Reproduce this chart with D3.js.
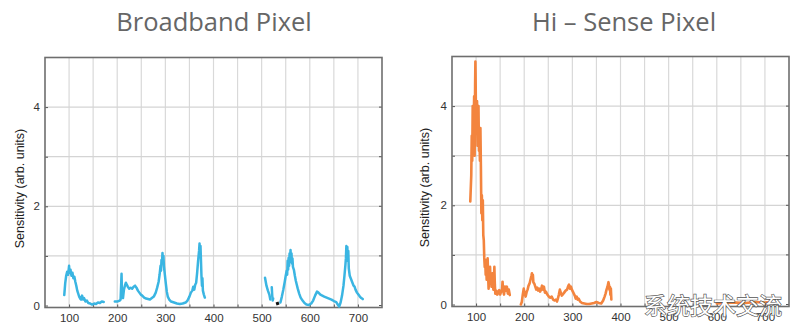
<!DOCTYPE html>
<html><head><meta charset="utf-8">
<script src="https://cdn.jsdelivr.net/npm/d3@7"></script>
<style>html,body{margin:0;padding:0;background:#fff;}svg{display:block;}</style>
</head><body>
<svg id="chart" width="792" height="330"></svg>
<script>
// ---------- data ----------
const titles = ["Broadband Pixel", "Hi \u2013 Sense Pixel"];
const yAxisLabel = "Sensitivity (arb. units)";
const xTickValues = [100, 200, 300, 400, 500, 600, 700];
const yTickValues = [0, 2, 4];
const xGridValues = [100,150,200,250,300,350,400,450,500,550,600,650,700];
const yGridValues = [1, 2, 3, 4];
const watermarkText = "系统技术交流";

// Broadband pixel (blue), segments of [wavelength, sensitivity]
const broadbandSeg1 = [[90,0.21],[92,0.45],[94,0.6],[96,0.68],[98,0.62],[100,0.8],[101,0.66],[103,0.72],[105,0.6],[107,0.66],[109,0.55],[111,0.58],[113,0.48],[115,0.4],[117,0.3],[119,0.24],[121,0.18],[123,0.14],[125,0.12],[127,0.2],[129,0.12],[131,0.15],[134,0.08],[137,0.1],[140,0.05],[144,0.04],[148,0.02],[152,0.04],[156,0.03],[160,0.06],[164,0.05],[168,0.08],[172,0.07]];
const broadbandSeg2 = [[195,0.08],[200,0.08],[205,0.1],[207,0.12],[209,0.64],[210,0.2],[212,0.15],[214,0.32],[216,0.4],[218,0.46],[220,0.42],[222,0.38],[225,0.34],[228,0.36],[231,0.34],[234,0.38],[237,0.4],[240,0.36],[243,0.3],[246,0.26],[249,0.22],[252,0.2],[256,0.16],[260,0.14],[264,0.13],[268,0.12],[272,0.15],[276,0.18],[280,0.26],[283,0.36],[286,0.48],[288,0.62],[290,0.8],[291,0.7],[292,0.92],[293,0.86],[294,1.06],[295,0.9],[296,1.0],[297,0.8],[299,0.62],[301,0.44],[303,0.28],[305,0.18],[308,0.12],[312,0.08],[318,0.06],[324,0.04],[330,0.03],[336,0.04],[342,0.06],[346,0.1],[350,0.18],[353,0.26],[356,0.3],[358,0.38],[360,0.32],[362,0.42],[364,0.46],[366,0.66],[368,0.9],[370,1.1],[371,1.25],[372,1.1],[373,1.2],[374,0.9],[375,0.6],[376,0.4],[377,0.55],[378,0.3],[380,0.22],[382,0.16]];
const broadbandSeg3 = [[507,0.56],[510,0.4],[513,0.3],[516,0.22],[518,0.12]];
const broadbandSeg4 = [[521,0.37],[522,0.2],[523,0.1],[524,0.14]];
const broadbandSeg5 = [[539,0.06],[542,0.18],[545,0.32],[548,0.48],[550,0.6],[552,0.7],[553,0.62],[554,0.9],[555,0.72],[556,0.96],[557,0.8],[558,1.05],[559,0.9],[560,1.12],[561,0.88],[562,1.05],[563,0.85],[564,0.95],[565,0.78],[567,0.72],[569,0.6],[571,0.5],[573,0.42],[575,0.34],[578,0.24],[581,0.16],[585,0.1],[589,0.05],[593,0.02],[598,0.01],[603,0.04],[607,0.1],[611,0.2],[615,0.28],[618,0.26],[622,0.22],[626,0.2],[630,0.18],[635,0.16],[640,0.14],[645,0.12],[650,0.09],[655,0.07],[658,0.02],[661,-0.02],[664,0.06],[667,0.2],[670,0.4],[672,0.6],[674,0.82],[675,0.95],[676,1.2],[677,1.05],[678,1.18],[679,0.9],[680,1.1],[681,0.75],[683,0.6],[685,0.55],[687,0.5],[689,0.45],[691,0.4],[693,0.38],[695,0.32],[698,0.26],[701,0.22],[704,0.18],[707,0.15],[710,0.13]];
const broadbandMark = [[530,0.03],[536,0.05]];

// Hi-Sense pixel (orange)
const hiSenseSeg1 = [[88,2.08],[90,2.6],[91,3.4],[92,2.9],[93,4.0],[94,3.2],[95,3.6],[96,4.2],[97,3.0],[98,4.4],[98.6,4.9],[99,4.6],[100,3.6],[101,3.9],[102,4.1],[103,3.2],[104,3.5],[105,4.0],[106,3.1],[107,3.4],[108,2.9],[109,3.56],[110,2.8],[111,1.84],[112,2.2],[113,1.7],[114,2.1],[115,1.4],[116,1.3],[117,0.95],[118,0.76],[119,0.9],[120,0.6],[121,0.8],[122,0.5],[123,0.8],[124,0.93],[125,0.6],[126,0.32],[127,0.55],[128,0.6],[129,0.76],[130,0.5],[131,0.6],[132,0.36],[133,0.5],[134,0.63],[135,0.4],[136,0.3],[137,0.5],[138,0.76],[139,0.4],[140,0.22],[142,0.28],[144,0.2],[146,0.24],[148,0.29],[150,0.2],[152,0.26],[154,0.3],[155,0.46],[156,0.3],[158,0.2],[160,0.36],[162,0.28],[164,0.36],[166,0.22],[168,0.3],[170,0.19]];
const hiSenseSeg2 = [[193,0.0],[195,0.05],[197,0.2],[199,0.32],[201,0.22],[203,0.16],[205,0.25],[207,0.3],[209,0.38],[211,0.42],[213,0.5],[215,0.58],[216,0.63],[217,0.55],[218,0.6],[219,0.45],[221,0.42],[223,0.36],[225,0.3],[227,0.34],[229,0.28],[231,0.32],[233,0.26],[235,0.3],[237,0.38],[239,0.3],[241,0.36],[243,0.24],[245,0.26],[248,0.2],[251,0.16],[254,0.14],[257,0.16],[260,0.1],[263,0.08],[266,0.1],[268,0.06],[270,0.12],[272,0.2],[274,0.3],[276,0.24],[278,0.18],[280,0.2],[283,0.24],[286,0.28],[289,0.3],[291,0.36],[293,0.4],[295,0.32],[297,0.36],[299,0.3],[301,0.26],[303,0.22],[305,0.18],[307,0.12],[309,0.16],[311,0.1],[313,0.12],[316,0.06],[320,0.03],[325,0.02],[330,0.01],[335,0.01],[340,0.02],[345,0.03],[350,0.05],[355,0.03],[360,0.02],[364,0.08],[367,0.16],[369,0.22],[371,0.3],[373,0.36],[375,0.45],[376,0.4],[377,0.3],[378,0.36],[379,0.2],[380,0.32],[381,0.1]];
const hiSenseSeg3 = [[600,0.02],[620,0.03],[640,0.04],[660,0.03],[680,0.05],[700,0.04],[710,0.05]];

const broadbandSegments = [broadbandSeg1, broadbandSeg2, broadbandSeg3, broadbandSeg4, broadbandSeg5];
const hiSenseSegments = [hiSenseSeg1, hiSenseSeg2, hiSenseSeg3];

// ---------- drawing ----------
const svg = d3.select("#chart");

function panel(cfg) {
  const x = d3.scaleLinear().domain([50, 750]).range([cfg.left, cfg.right]);
  const y = d3.scaleLinear().domain([-0.04, 5]).range([cfg.bottom, cfg.top]);
  const g = svg.append("g");

  // grid
  g.selectAll(".vg").data(xGridValues).join("line")
    .attr("x1", d => x(d)).attr("x2", d => x(d))
    .attr("y1", cfg.top).attr("y2", cfg.bottom)
    .attr("stroke", "#d9d9d9").attr("stroke-width", 1.2);
  g.selectAll(".hg").data(yGridValues).join("line")
    .attr("x1", cfg.left).attr("x2", cfg.right)
    .attr("y1", d => y(d)).attr("y2", d => y(d))
    .attr("stroke", "#d4d4d4").attr("stroke-width", 1.2);

  // axes via d3 (ticks inward)
  const xAxis = d3.axisBottom(x).tickValues(xGridValues).tickSize(-3).tickPadding(6)
    .tickFormat(d => xTickValues.includes(d) ? d : "");
  const gx = g.append("g").attr("transform", `translate(0,${cfg.bottom})`).call(xAxis);
  gx.select(".domain").remove();
  gx.selectAll("line").attr("stroke", "#555");
  gx.selectAll("text").attr("font-family", "Liberation Sans, Arial, sans-serif")
    .attr("font-size", 11.5).attr("fill", "#333");

  const yAxis = d3.axisLeft(y).tickValues([0,1,2,3,4]).tickSize(-3).tickPadding(5)
    .tickFormat(d => yTickValues.includes(d) ? d : "");
  const gy = g.append("g").attr("transform", `translate(${cfg.left},0)`).call(yAxis);
  gy.select(".domain").remove();
  gy.selectAll("line").attr("stroke", "#555");
  gy.selectAll("text").attr("font-family", "Liberation Sans, Arial, sans-serif")
    .attr("font-size", 11.5).attr("fill", "#333");

  // right ticks
  g.selectAll(".rt").data([0,1,2,3,4]).join("line")
    .attr("x1", cfg.right - 3).attr("x2", cfg.right)
    .attr("y1", d => y(d)).attr("y2", d => y(d)).attr("stroke", "#555");

  // frame
  g.append("rect").attr("x", cfg.left).attr("y", cfg.top)
    .attr("width", cfg.right - cfg.left).attr("height", cfg.bottom - cfg.top)
    .attr("fill", "none").attr("stroke", "#6e6e6e").attr("stroke-width", 1.6);

  // lines
  const line = d3.line().x(d => x(d[0])).y(d => y(d[1]));
  g.selectAll(".series").data(cfg.segments).join("path")
    .attr("d", line).attr("fill", "none")
    .attr("stroke", cfg.color).attr("stroke-width", cfg.width)
    .attr("stroke-linejoin", "round").attr("stroke-linecap", "round");
  if (cfg.mark) {
    g.append("path").attr("d", line(cfg.mark)).attr("fill", "none")
      .attr("stroke", "#111").attr("stroke-width", 3);
  }

  // y label
  g.append("text")
    .attr("transform", `translate(${cfg.ylabelX},${(cfg.top + cfg.bottom) / 2 + 6}) rotate(-90)`)
    .attr("text-anchor", "middle")
    .attr("font-family", "Liberation Sans, Arial, sans-serif")
    .attr("font-size", 12.5).attr("fill", "#222")
    .text(yAxisLabel);

  // title
  svg.append("text").attr("x", cfg.titleX).attr("y", 31)
    .attr("text-anchor", "middle")
    .attr("font-family", "Open Sans, sans-serif")
    .attr("font-size", 25.5).attr("fill", "#666")
    .text(cfg.title);
}

panel({left: 45, right: 382, top: 57.5, bottom: 307.5, color: "#3ab5e2", width: 2.5,
  segments: broadbandSegments, mark: broadbandMark, ylabelX: 24, title: titles[0], titleX: 214});
panel({left: 452, right: 789, top: 56.5, bottom: 306.5, color: "#f3843e", width: 2.6,
  segments: hiSenseSegments, ylabelX: 429, title: titles[1], titleX: 624});

// watermark (overlays the axis labels, as in the reference)
svg.append("text").attr("x", 713).attr("y", 314)
  .attr("text-anchor", "middle")
  .attr("font-family", "Noto Sans CJK SC, sans-serif")
  .attr("font-size", 23).attr("font-weight", 400)
  .attr("fill", "#fff").attr("stroke", "#555").attr("stroke-width", 1.3)
  .attr("paint-order", "stroke")
  .text(watermarkText);
</script>
</body></html>
